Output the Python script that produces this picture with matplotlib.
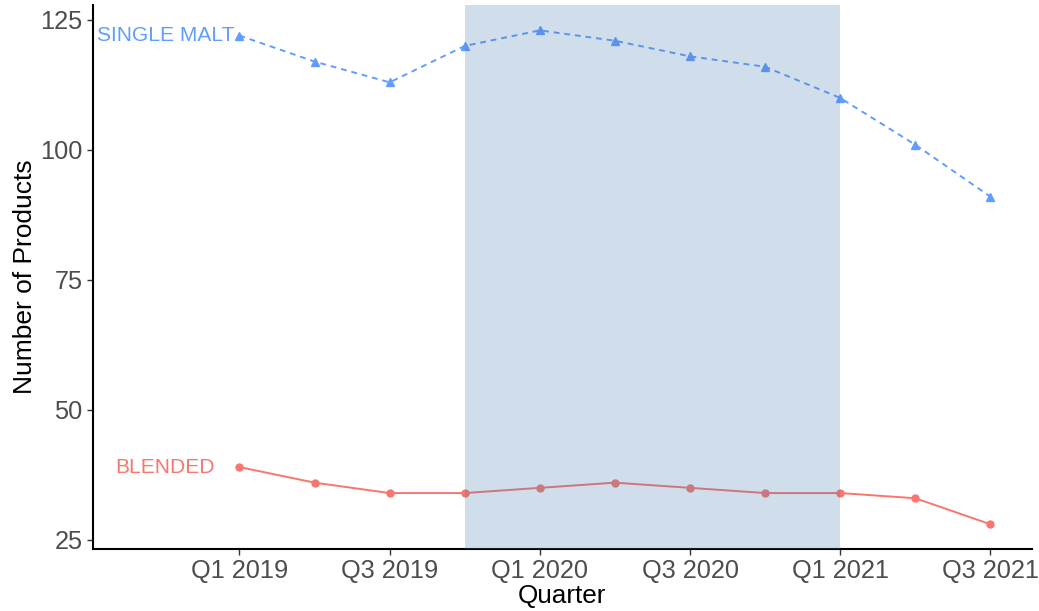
import matplotlib.pyplot as plt
import numpy as np

plt.rcParams['font.family'] = ['Liberation Sans', 'DejaVu Sans']

quarters = ['Q1 2019', 'Q2 2019', 'Q3 2019', 'Q4 2019', 'Q1 2020', 'Q2 2020',
            'Q3 2020', 'Q4 2020', 'Q1 2021', 'Q2 2021', 'Q3 2021']
single_malt = [122, 117, 113, 120, 123, 121, 118, 116, 110, 101, 91]
blended = [39, 36, 34, 34, 35, 36, 35, 34, 34, 33, 28]
highlight_start = 'Q4 2019'
highlight_end = 'Q1 2021'

x = np.arange(len(quarters))

fig = plt.figure(figsize=(10.39, 6.11), dpi=100)
ax = fig.add_axes([0.0895, 0.102, 0.9035, 0.890])

ax.plot(x, single_malt, color='#619CFF', linestyle=(0, (3, 2.5)), linewidth=1.4,
        marker='^', markersize=6, zorder=2)
ax.plot(x, blended, color='#F8766D', linestyle='-', linewidth=1.4,
        marker='o', markersize=5, zorder=2)

# shaded period drawn over the lines, like the original
x0 = quarters.index(highlight_start)
x1 = quarters.index(highlight_end)
ax.axvspan(x0, x1, color='#4A7DAE', alpha=0.26, lw=0, zorder=3)

ax.text(-0.07, single_malt[0], 'SINGLE MALT', color='#619CFF', fontsize=15.1,
        ha='right', va='center')
ax.text(-0.33, blended[0], 'BLENDED', color='#F8766D', fontsize=15.1,
        ha='right', va='center')

ax.set_xlim(-1.95, 10.55)
ax.set_ylim(23.3, 127.9)
ax.set_xticks(x[::2])
ax.set_xticklabels(quarters[::2])
ax.set_yticks([25, 50, 75, 100, 125])

ax.tick_params(axis='both', labelsize=18.3, labelcolor='#4D4D4D', color='#333333',
               length=4, width=1)
ax.set_xlabel('Quarter', fontsize=18.8, labelpad=1)
ax.set_ylabel('Number of Products', fontsize=19, labelpad=2)

for side in ['top', 'right']:
    ax.spines[side].set_visible(False)
for side in ['left', 'bottom']:
    ax.spines[side].set_linewidth(1.5)
    ax.spines[side].set_color('black')

fig.savefig('out.png', dpi=100)
